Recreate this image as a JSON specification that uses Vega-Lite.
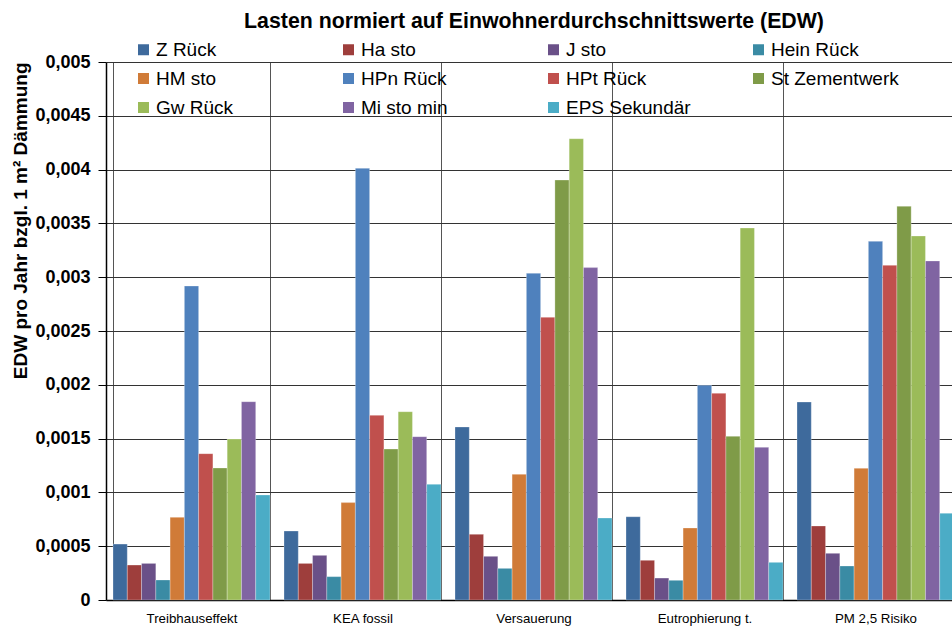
{
  "$schema": "https://vega.github.io/schema/vega-lite/v6.json",
  "autosize": {"type": "none"},
  "padding": {"left": 106, "top": 62, "right": 0, "bottom": 28},
  "width": 846,
  "height": 538,
  "background": "white",
  "config": {"view": {"stroke": null}},
  "title": {
    "text": "Lasten normiert auf Einwohnerdurchschnittswerte (EDW)",
    "font": "Liberation Sans",
    "fontSize": 21.3,
    "fontWeight": "bold",
    "color": "black",
    "anchor": "middle",
    "dx": 5,
    "offset": 8
  },
  "data": {
    "values": [
      {"cat": "Treibhauseffekt", "series": "Z Rück", "value": 0.00052},
      {"cat": "Treibhauseffekt", "series": "Ha sto", "value": 0.000325},
      {"cat": "Treibhauseffekt", "series": "J sto", "value": 0.00034},
      {"cat": "Treibhauseffekt", "series": "Hein Rück", "value": 0.000186},
      {"cat": "Treibhauseffekt", "series": "HM sto", "value": 0.000768},
      {"cat": "Treibhauseffekt", "series": "HPn Rück", "value": 0.002918},
      {"cat": "Treibhauseffekt", "series": "HPt Rück", "value": 0.00136},
      {"cat": "Treibhauseffekt", "series": "St Zementwerk", "value": 0.001227},
      {"cat": "Treibhauseffekt", "series": "Gw Rück", "value": 0.001496},
      {"cat": "Treibhauseffekt", "series": "Mi sto min", "value": 0.001843},
      {"cat": "Treibhauseffekt", "series": "EPS Sekundär", "value": 0.000976},
      {"cat": "KEA fossil", "series": "Z Rück", "value": 0.000641},
      {"cat": "KEA fossil", "series": "Ha sto", "value": 0.00034},
      {"cat": "KEA fossil", "series": "J sto", "value": 0.000415},
      {"cat": "KEA fossil", "series": "Hein Rück", "value": 0.000217},
      {"cat": "KEA fossil", "series": "HM sto", "value": 0.000905},
      {"cat": "KEA fossil", "series": "HPn Rück", "value": 0.004012},
      {"cat": "KEA fossil", "series": "HPt Rück", "value": 0.001716},
      {"cat": "KEA fossil", "series": "St Zementwerk", "value": 0.001403},
      {"cat": "KEA fossil", "series": "Gw Rück", "value": 0.00175},
      {"cat": "KEA fossil", "series": "Mi sto min", "value": 0.001518},
      {"cat": "KEA fossil", "series": "EPS Sekundär", "value": 0.001075},
      {"cat": "Versauerung", "series": "Z Rück", "value": 0.001608},
      {"cat": "Versauerung", "series": "Ha sto", "value": 0.00061},
      {"cat": "Versauerung", "series": "J sto", "value": 0.000406},
      {"cat": "Versauerung", "series": "Hein Rück", "value": 0.000294},
      {"cat": "Versauerung", "series": "HM sto", "value": 0.001168},
      {"cat": "Versauerung", "series": "HPn Rück", "value": 0.003036},
      {"cat": "Versauerung", "series": "HPt Rück", "value": 0.002627},
      {"cat": "Versauerung", "series": "St Zementwerk", "value": 0.003903},
      {"cat": "Versauerung", "series": "Gw Rück", "value": 0.004287},
      {"cat": "Versauerung", "series": "Mi sto min", "value": 0.003089},
      {"cat": "Versauerung", "series": "EPS Sekundär", "value": 0.000762},
      {"cat": "Eutrophierung t.", "series": "Z Rück", "value": 0.000774},
      {"cat": "Eutrophierung t.", "series": "Ha sto", "value": 0.000369},
      {"cat": "Eutrophierung t.", "series": "J sto", "value": 0.000204},
      {"cat": "Eutrophierung t.", "series": "Hein Rück", "value": 0.000183},
      {"cat": "Eutrophierung t.", "series": "HM sto", "value": 0.000669},
      {"cat": "Eutrophierung t.", "series": "HPn Rück", "value": 0.001995},
      {"cat": "Eutrophierung t.", "series": "HPt Rück", "value": 0.001921},
      {"cat": "Eutrophierung t.", "series": "St Zementwerk", "value": 0.001521},
      {"cat": "Eutrophierung t.", "series": "Gw Rück", "value": 0.003457},
      {"cat": "Eutrophierung t.", "series": "Mi sto min", "value": 0.001419},
      {"cat": "Eutrophierung t.", "series": "EPS Sekundär", "value": 0.00035},
      {"cat": "PM 2,5 Risiko", "series": "Z Rück", "value": 0.00184},
      {"cat": "PM 2,5 Risiko", "series": "Ha sto", "value": 0.000688},
      {"cat": "PM 2,5 Risiko", "series": "J sto", "value": 0.000434},
      {"cat": "PM 2,5 Risiko", "series": "Hein Rück", "value": 0.000316},
      {"cat": "PM 2,5 Risiko", "series": "HM sto", "value": 0.001224},
      {"cat": "PM 2,5 Risiko", "series": "HPn Rück", "value": 0.003333},
      {"cat": "PM 2,5 Risiko", "series": "HPt Rück", "value": 0.00311},
      {"cat": "PM 2,5 Risiko", "series": "St Zementwerk", "value": 0.003659},
      {"cat": "PM 2,5 Risiko", "series": "Gw Rück", "value": 0.003383},
      {"cat": "PM 2,5 Risiko", "series": "Mi sto min", "value": 0.003151},
      {"cat": "PM 2,5 Risiko", "series": "EPS Sekundär", "value": 0.000806}
    ]
  },
  "mark": {"type": "bar", "stroke": "white", "strokeWidth": 0.6, "strokeOpacity": 0.45},
  "encoding": {
    "x": {
      "field": "cat",
      "type": "nominal",
      "sort": ["Treibhauseffekt", "KEA fossil", "Versauerung", "Eutrophierung t.", "PM 2,5 Risiko"],
      "scale": {"range": [0, 855], "paddingInner": 0.082, "paddingOuter": 0.041},
      "axis": {
        "title": null,
        "labelAngle": 0,
        "labelFont": "Liberation Sans",
        "labelFontSize": 13.3,
        "labelColor": "black",
        "labelPadding": 11,
        "ticks": false,
        "domainColor": "black",
        "domainWidth": 1.5,
        "grid": true,
        "gridColor": "#555555",
        "gridWidth": 1,
        "gridOpacity": 1,
        "tickBand": "extent"
      }
    },
    "xOffset": {
      "field": "series",
      "type": "nominal",
      "sort": ["Z Rück", "Ha sto", "J sto", "Hein Rück", "HM sto", "HPn Rück", "HPt Rück", "St Zementwerk", "Gw Rück", "Mi sto min", "EPS Sekundär"],
      "scale": {"paddingInner": 0, "paddingOuter": 0}
    },
    "y": {
      "field": "value",
      "type": "quantitative",
      "scale": {"domain": [0, 0.005], "nice": false},
      "axis": {
        "title": "EDW pro Jahr bzgl. 1 m² Dämmung",
        "titleFont": "Liberation Sans",
        "titleFontSize": 19,
        "titleFontWeight": "bold",
        "titleColor": "black",
        "titleAnchor": "end",
        "titlePadding": 4,
        "values": [0, 0.0005, 0.001, 0.0015, 0.002, 0.0025, 0.003, 0.0035, 0.004, 0.0045, 0.005],
        "labelExpr": "replace(datum.value + '', '.', ',')",
        "labelFont": "Liberation Sans",
        "labelFontSize": 18,
        "labelFontWeight": "bold",
        "labelColor": "black",
        "labelPadding": 8,
        "tickSize": 8,
        "tickColor": "black",
        "domainColor": "black",
        "domainWidth": 1.5,
        "grid": true,
        "gridColor": "#333333",
        "gridWidth": 1,
        "gridOpacity": 1
      }
    },
    "color": {
      "field": "series",
      "type": "nominal",
      "scale": {
        "domain": ["Z Rück", "Ha sto", "J sto", "Hein Rück", "HM sto", "HPn Rück", "HPt Rück", "St Zementwerk", "Gw Rück", "Mi sto min", "EPS Sekundär"],
        "range": ["#3E6A9C", "#9E3E3C", "#6A5088", "#3A8BA4", "#D07B38", "#4F81BD", "#C0504D", "#7F9B48", "#9BBB59", "#8064A2", "#4BACC6"]
      },
      "legend": {
        "title": null,
        "orient": "none",
        "legendX": 28,
        "legendY": -22,
        "direction": "horizontal",
        "columns": 4,
        "gridAlign": "all",
        "columnPadding": 55,
        "rowPadding": 9,
        "padding": 0,
        "symbolType": "square",
        "symbolSize": 121,
        "symbolStrokeWidth": 0,
        "symbolOpacity": 1,
        "labelFont": "Liberation Sans",
        "labelFontSize": 19,
        "labelColor": "black",
        "labelOffset": 3,
        "labelLimit": 300
      }
    }
  }
}
